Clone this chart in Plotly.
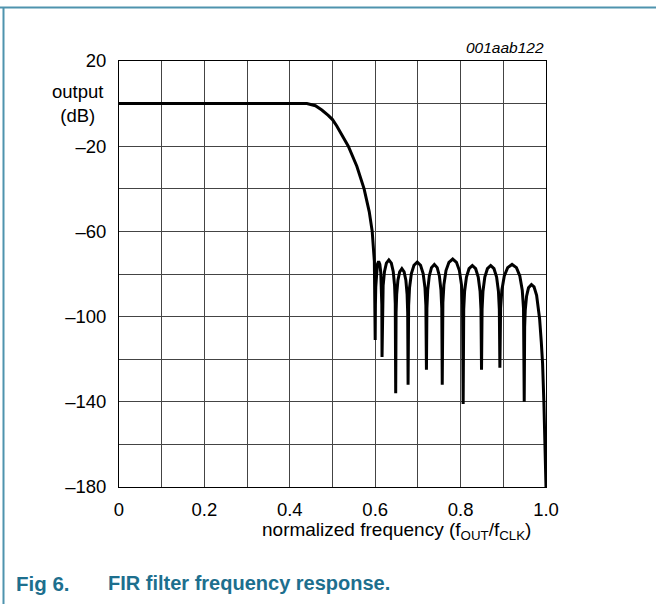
import plotly.graph_objects as go

# Frequency (normalized f_OUT/f_CLK) and output (dB)
freq = [
    0.0, 0.1, 0.2, 0.3, 0.4, 0.44, 0.46, 0.475, 0.49, 0.50, 0.51, 0.522, 0.537,
    0.557, 0.574, 0.586, 0.593, 0.598, 0.600,
    # lobe 1
    0.6005, 0.6013, 0.6029, 0.6051, 0.608, 0.6109, 0.6131, 0.6147, 0.6155, 0.616,
    # lobe 2
    0.617, 0.6186, 0.6218, 0.6262, 0.632, 0.6378, 0.6422, 0.6454, 0.647, 0.648,
    # lobe 3
    0.6489, 0.6503, 0.6532, 0.6573, 0.6625, 0.6677, 0.6718, 0.6747, 0.6761, 0.677,
    # lobe 4
    0.6783, 0.6804, 0.6847, 0.6908, 0.6985, 0.7062, 0.7123, 0.7166, 0.7187, 0.720,
    # lobe 5
    0.7211, 0.723, 0.7267, 0.7318, 0.7385, 0.7452, 0.7503, 0.754, 0.7559, 0.757,
    # lobe 6
    0.7585, 0.7609, 0.7658, 0.7727, 0.7815, 0.7903, 0.7972, 0.8021, 0.8045, 0.806,
    # lobe 7
    0.8073, 0.8094, 0.8137, 0.8198, 0.8275, 0.8352, 0.8413, 0.8456, 0.8477, 0.849,
    # lobe 8
    0.8503, 0.8524, 0.8567, 0.8628, 0.8705, 0.8782, 0.8843, 0.8886, 0.8907, 0.892,
    # lobe 9
    0.8937, 0.8966, 0.9023, 0.9102, 0.9205, 0.9308, 0.9387, 0.9444, 0.9473, 0.949,
    # lobe 10
    0.9500, 0.9514, 0.9545, 0.959, 0.966, 0.972, 0.978, 0.982, 0.985, 0.989,
    0.992, 0.995, 0.998, 1.0,
]
output_db = [
    0, 0, 0, 0, 0, 0, -1, -3, -5.5, -7.5, -10.5, -14.6, -20,
    -29.4, -40, -50.7, -60, -74, -111,
    -94.5, -86.1, -79.4, -75.5, -74, -75.5, -79.4, -86.1, -94.5, -119,
    -93.9, -85.5, -78.8, -74.9, -73.4, -74.9, -78.8, -85.5, -93.9, -136,
    -98, -89.6, -82.9, -79, -77.5, -79, -82.9, -89.6, -98, -132,
    -94.9, -86.5, -79.8, -75.9, -74.4, -75.9, -79.8, -86.5, -94.9, -125,
    -96, -87.6, -80.9, -77, -75.5, -77, -80.9, -87.6, -96, -132,
    -93.5, -85.1, -78.4, -74.5, -73, -74.5, -78.4, -85.1, -93.5, -141,
    -96.5, -88.1, -81.4, -77.5, -76, -77.5, -81.4, -88.1, -96.5, -125,
    -96.5, -88.1, -81.4, -77.5, -76, -77.5, -81.4, -88.1, -96.5, -124,
    -96, -87.6, -80.9, -77, -75.5, -77, -80.9, -87.6, -96, -140,
    -105, -97, -90.4, -86.5, -85, -86, -90, -95, -101, -112,
    -122, -140, -158, -180,
]

x_tickvals = [0, 0.2, 0.4, 0.6, 0.8, 1.0]
x_ticktext = ["0", "0.2", "0.4", "0.6", "0.8", "1.0"]
y_tickvals = [20, -20, -60, -100, -140, -180]
y_ticktext = ["20", "–20", "–60", "–100", "–140", "–180"]

FONT = "Liberation Sans, Arial, sans-serif"
TEAL = "#1d6f8e"
FS = 18.5

fig = go.Figure()
fig.add_trace(go.Scatter(
    x=freq, y=output_db, mode="lines",
    line=dict(color="black", width=3),
    showlegend=False, hoverinfo="skip",
))

fig.update_layout(
    width=656, height=604,
    margin=dict(l=119, r=110, t=61, b=117),
    paper_bgcolor="white", plot_bgcolor="white",
    font=dict(family=FONT, size=FS, color="black"),
    xaxis=dict(
        range=[0, 1], tickvals=x_tickvals, ticktext=x_ticktext,
        showgrid=True, gridcolor="#444", gridwidth=1,
        minor=dict(dtick=0.1, tick0=0, showgrid=True, gridcolor="#444", gridwidth=1),
        showline=True, linecolor="black", linewidth=1, mirror=True,
        ticks="", zeroline=False, ticklabelstandoff=6,
    ),
    yaxis=dict(
        range=[-180, 20], tickvals=y_tickvals, ticktext=y_ticktext,
        showgrid=True, gridcolor="#444", gridwidth=1,
        minor=dict(dtick=20, tick0=20, showgrid=True, gridcolor="#444", gridwidth=1),
        showline=True, linecolor="black", linewidth=1, mirror=True,
        ticks="", zeroline=False, ticklabelstandoff=8,
    ),
)

fig.add_annotation(
    text="output<br>(dB)", xref="paper", yref="paper",
    x=(77 - 119) / 427, y=(487 - 103) / 426, xanchor="center", yanchor="middle",
    showarrow=False, font=dict(family=FONT, size=FS), align="center",
)
fig.add_annotation(
    text="<i>001aab122</i>", xref="paper", yref="paper",
    x=1.0, y=(487 - 48) / 426, xanchor="right", yanchor="middle",
    showarrow=False, font=dict(family=FONT, size=15.5),
)
fig.add_annotation(
    text="normalized frequency (f<sub>OUT</sub>/f<sub>CLK</sub>)",
    xref="paper", yref="paper",
    x=(533 - 119) / 427, y=(487 - 531) / 426, xanchor="right", yanchor="middle",
    showarrow=False, font=dict(family=FONT, size=19),
)
fig.add_annotation(
    text="<b>Fig 6.</b>",
    xref="paper", yref="paper",
    x=(14 - 119) / 427, y=(487 - 583) / 426, xanchor="left", yanchor="middle",
    showarrow=False, font=dict(family=FONT, size=20.5, color=TEAL),
)
fig.add_annotation(
    text="<b>FIR filter frequency response.</b>",
    xref="paper", yref="paper",
    x=(106 - 119) / 427, y=(487 - 583) / 426, xanchor="left", yanchor="middle",
    showarrow=False, font=dict(family=FONT, size=20, color=TEAL),
)

# frame lines (top and left)
fig.add_shape(type="line", xref="paper", yref="paper",
              x0=(0 - 119) / 427, x1=(656 - 119) / 427,
              y0=(487 - 7.5) / 426, y1=(487 - 7.5) / 426,
              line=dict(color="#4f93ae", width=2))
fig.add_shape(type="line", xref="paper", yref="paper",
              x0=(3.5 - 119) / 427, x1=(3.5 - 119) / 427,
              y0=(487 - 7.5) / 426, y1=(487 - 604) / 426,
              line=dict(color="#4f93ae", width=2))

fig.write_html("out.html", config={"displayModeBar": False},
               post_script="document.body.style.margin='0';")
